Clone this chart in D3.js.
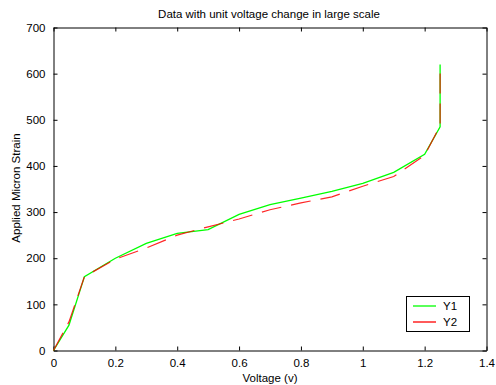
<!DOCTYPE html>
<html><head><meta charset="utf-8">
<script src="https://cdn.jsdelivr.net/npm/d3@7"></script>
<style>body{margin:0;background:#fff}svg{display:block}text{font-family:"Liberation Sans",Arial,sans-serif;}</style>
</head><body><svg id="c" width="496" height="385"></svg>
<script>
const voltage = [0, 0.05, 0.1, 0.2, 0.3, 0.4, 0.5, 0.6, 0.7, 0.8, 0.9, 1.0, 1.1, 1.2, 1.25, 1.25];
const y1 = [0, 55, 160, 200, 232, 254, 262, 295, 316, 330, 345, 362, 386, 425, 485, 620];
const y2 = [0, 62, 160, 198, 222, 250, 268, 285, 305, 320, 333, 356, 377, 423, 487, 620];
const xTicks = [0, 0.2, 0.4, 0.6, 0.8, 1, 1.2, 1.4];
const yTicks = [0, 100, 200, 300, 400, 500, 600, 700];
const seriesNames = ["Y1", "Y2"];
const colors = ["#00ff00", "#ff0000"];

const svg = d3.select("#c");
const L = 53.5, R = 486.5, T = 27.5, B = 350.5;
const x = d3.scaleLinear().domain([0, 1.4]).range([L, R]);
const y = d3.scaleLinear().domain([0, 700]).range([B, T]);
const fs = "11.5px";

const gB = svg.append("g").attr("transform", `translate(0,${B})`).call(d3.axisBottom(x).tickValues(xTicks).tickSizeInner(-4).tickSizeOuter(0).tickPadding(8).tickFormat(d3.format("")));
const gT = svg.append("g").attr("transform", `translate(0,${T})`).call(d3.axisTop(x).tickValues(xTicks).tickSizeInner(-4).tickSizeOuter(0).tickFormat(""));
const gL = svg.append("g").attr("transform", `translate(${L},0)`).call(d3.axisLeft(y).tickValues(yTicks).tickSizeInner(-4).tickSizeOuter(0).tickPadding(8));
const gR = svg.append("g").attr("transform", `translate(${R},0)`).call(d3.axisRight(y).tickValues(yTicks).tickSizeInner(-4).tickSizeOuter(0).tickFormat(""));
[gB, gT, gL, gR].forEach(g => {
  g.selectAll(".domain").attr("stroke", "#000").attr("stroke-width", 1);
  g.selectAll("line").attr("stroke", "#000");
  g.selectAll("text").attr("fill", "#000").style("font-size", fs).style("font-family", "Liberation Sans, Arial, sans-serif");
});

const line = d3.line().x((d, i) => x(voltage[i])).y(d => y(d));
svg.append("path").datum(y1).attr("d", line).attr("fill", "none").attr("stroke", colors[0]).attr("stroke-width", 1.3);
svg.append("path").datum(y2).attr("d", line).attr("fill", "none").attr("stroke", colors[1]).attr("stroke-width", 1.2).attr("stroke-dasharray", "20,10").attr("stroke-opacity", 0.85);

svg.append("text").attr("x", 269).attr("y", 18).attr("text-anchor", "middle").style("font-size", fs).text("Data with unit voltage change in large scale");
svg.append("text").attr("x", 270).attr("y", 382).attr("text-anchor", "middle").style("font-size", fs).text("Voltage (v)");
svg.append("text").attr("transform", "translate(20,188) rotate(-90)").attr("text-anchor", "middle").style("font-size", fs).text("Applied Micron Strain");

const lg = svg.append("g");
lg.append("rect").attr("x", 406.5).attr("y", 296.5).attr("width", 63).attr("height", 35).attr("fill", "#fff").attr("stroke", "#000");
seriesNames.forEach((n, i) => {
  const yy = 306 + i * 16;
  lg.append("line").attr("x1", 413).attr("x2", 436).attr("y1", yy).attr("y2", yy).attr("stroke", colors[i]).attr("stroke-width", 1.3);
  lg.append("text").attr("x", 443).attr("y", yy + 4).style("font-size", fs).text(n);
});
</script></body></html>
